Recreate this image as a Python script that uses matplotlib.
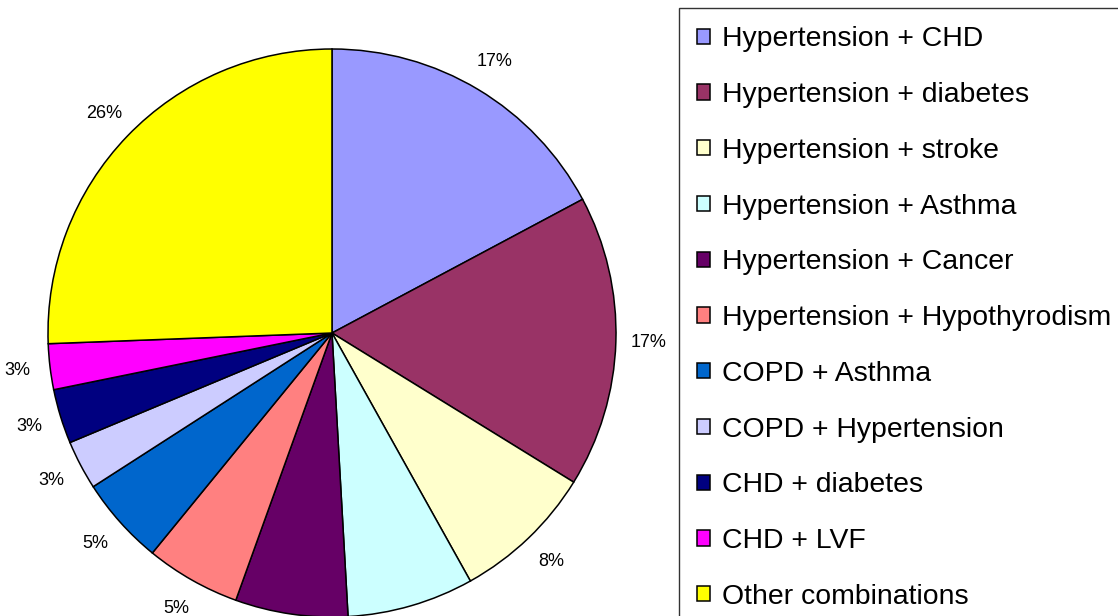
import matplotlib
matplotlib.use('Agg')
import matplotlib.pyplot as plt

plt.rcParams['font.family'] = ['Liberation Sans', 'DejaVu Sans']

labels = ['Hypertension + CHD', 'Hypertension + diabetes', 'Hypertension + stroke',
          'Hypertension + Asthma', 'Hypertension + Cancer', 'Hypertension + Hypothyrodism',
          'COPD + Asthma', 'COPD + Hypertension', 'CHD + diabetes', 'CHD + LVF',
          'Other combinations']
shares = [17.2, 16.6, 8.1, 7.2, 6.4, 5.4, 5.0, 2.8, 3.1, 2.6, 25.6]
colors = ['#9999FF', '#993366', '#FFFFCC', '#CCFFFF', '#660066', '#FF8080',
          '#0066CC', '#CCCCFF', '#000080', '#FF00FF', '#FFFF00']

W, H = 1118, 616
fig = plt.figure(figsize=(W / 100, H / 100), dpi=100)

# pie centre ~ (332, 333) px from top-left, radius ~284 px
cx, cy, r = 332, 283, 284
ax = fig.add_axes([(cx - r) / W, (cy - r) / H, 2 * r / W, 2 * r / H])

wedges, texts, autotexts = ax.pie(
    shares, colors=colors, startangle=90, counterclock=False, radius=1,
    autopct=lambda p: '%d%%' % round(p), pctdistance=1.115,
    wedgeprops=dict(edgecolor='black', linewidth=1.1),
    textprops=dict(fontsize=13, color='black'))
for w in wedges:
    w.set_clip_on(False)
ax.set_xlim(-1, 1)
ax.set_ylim(-1, 1)
ax.axis('off')

leg = fig.legend(wedges, labels, loc='upper left',
                 bbox_to_anchor=(679 / W, 1 - 8 / H), fontsize=20.4,
                 frameon=True, fancybox=False, edgecolor='black',
                 handlelength=0.45, handleheight=0.45, handletextpad=0.4,
                 labelspacing=1.05, borderpad=0.65, borderaxespad=0)
leg.get_frame().set_linewidth(1.0)

fig.savefig('out.png', dpi=100)
